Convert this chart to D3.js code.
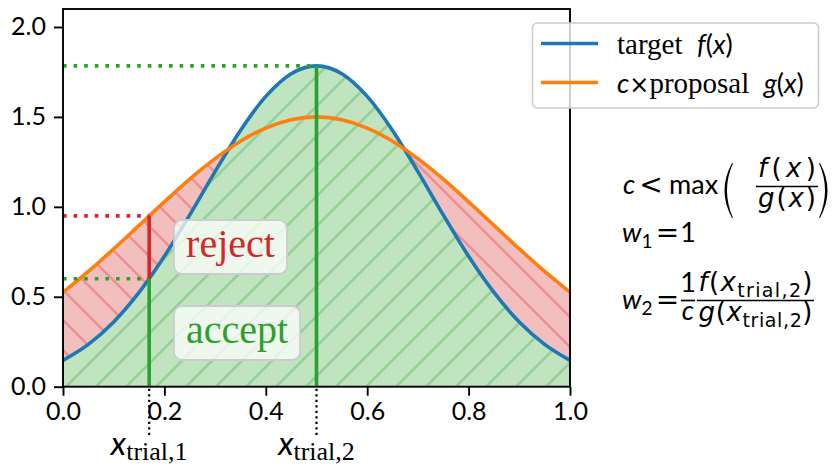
<!DOCTYPE html>
<html>
<head>
<meta charset="utf-8">
<script src="https://cdn.jsdelivr.net/npm/d3@7"></script>
<style>
  body { margin: 0; background: #fff; }
  svg { display: block; }
</style>
</head>
<body>
<script>
// Sample grid and curve values: target density f(x) and scaled proposal c·g(x)
const xGrid = [0.00, 0.05, 0.10, 0.15, 0.20, 0.25, 0.30, 0.35, 0.40, 0.45, 0.50,
               0.55, 0.60, 0.65, 0.70, 0.75, 0.80, 0.85, 0.90, 0.95, 1.00];
const targetF = [0.146, 0.235, 0.360, 0.524, 0.725, 0.955, 1.196, 1.425, 1.614, 1.740, 1.784,
                 1.740, 1.614, 1.425, 1.196, 0.955, 0.725, 0.524, 0.360, 0.235, 0.146];
const scaledProposal = [0.525, 0.641, 0.766, 0.897, 1.028, 1.154, 1.268, 1.365, 1.438, 1.484, 1.500,
                        1.484, 1.438, 1.365, 1.268, 1.154, 1.028, 0.897, 0.766, 0.641, 0.525];

// Two trial draws: position, f at that point, c·g at that point
const trialX = [0.17, 0.50];
const trialF = [0.60, 1.784];
const trialCG = [0.95, 1.50];
const trialNames = ["trial,1", "trial,2"];

const xTicks = [0.0, 0.2, 0.4, 0.6, 0.8, 1.0];
const yTicks = [0.0, 0.5, 1.0, 1.5, 2.0];
const legendLabels = ["target", "proposal"];

const W = 836, H = 467;
const SANS = "Lato, 'DejaVu Sans', sans-serif";
const SYM = "'DejaVu Sans', sans-serif";
const SERIF = "'Liberation Serif', 'DejaVu Serif', serif";
const C = { blue: "#1f77b4", orange: "#ff7f0e", green: "#2ca02c", red: "#d62728" };

const x = d3.scaleLinear().domain([0, 1]).range([63, 570]);
const y = d3.scaleLinear().domain([0, 2.1]).range([386.7, 9]);

const svg = d3.select("body").append("svg").attr("width", W).attr("height", H)
  .attr("viewBox", `0 0 ${W} ${H}`);
const defs = svg.append("defs");

function hatch(id, color, dir, shift) {
  const p = defs.append("pattern").attr("id", id)
    .attr("patternUnits", "userSpaceOnUse").attr("width", 30).attr("height", 30)
    .attr("patternTransform", `translate(${shift},0)`);
  const d = dir === "/"
    ? "M-5,5L5,-5M0,30L30,0M25,35L35,25"
    : "M-5,25L5,35M0,0L30,30M25,-5L35,5";
  p.append("path").attr("d", d).attr("stroke", color).attr("stroke-width", 2.5).attr("fill", "none");
}
hatch("hatchGreen", "#94cf94", "/", 2.7);
hatch("hatchRed", "#ea9191", "\\", 13);

defs.append("clipPath").attr("id", "plotClip").append("rect")
  .attr("x", x(0)).attr("y", y(2.1)).attr("width", x(1) - x(0)).attr("height", y(0) - y(2.1));

const rows = xGrid.map((v, i) => ({ x: v, f: targetF[i], g: scaledProposal[i] }));

const plot = svg.append("g").attr("clip-path", "url(#plotClip)");

// Rejection band: under c·g, later covered by the acceptance region under f
const areaG = d3.area().x(d => x(d.x)).y0(y(0)).y1(d => y(d.g)).curve(d3.curveMonotoneX);
const areaF = d3.area().x(d => x(d.x)).y0(y(0)).y1(d => y(d.f)).curve(d3.curveMonotoneX);
plot.append("path").attr("d", areaG(rows)).attr("fill", "#f3bebe");
plot.append("path").attr("d", areaG(rows)).attr("fill", "url(#hatchRed)");
plot.append("path").attr("d", areaF(rows)).attr("fill", "#c0e3c0");
plot.append("path").attr("d", areaF(rows)).attr("fill", "url(#hatchGreen)");

// Curves
const lineF = d3.line().x(d => x(d.x)).y(d => y(d.f)).curve(d3.curveMonotoneX);
const lineG = d3.line().x(d => x(d.x)).y(d => y(d.g)).curve(d3.curveMonotoneX);
plot.append("path").attr("d", lineF(rows)).attr("fill", "none").attr("stroke", C.blue).attr("stroke-width", 3.6);
plot.append("path").attr("d", lineG(rows)).attr("fill", "none").attr("stroke", C.orange).attr("stroke-width", 3.6);

// Dotted guides from the y axis to each trial
trialX.forEach((tx, i) => {
  plot.append("line").attr("x1", x(0)).attr("x2", x(tx)).attr("y1", y(trialF[i])).attr("y2", y(trialF[i]))
    .attr("stroke", C.green).attr("stroke-width", 3.6).attr("stroke-dasharray", "3.6,7");
  if (trialCG[i] > trialF[i]) {
    plot.append("line").attr("x1", x(0)).attr("x2", x(tx)).attr("y1", y(trialCG[i])).attr("y2", y(trialCG[i]))
      .attr("stroke", C.red).attr("stroke-width", 3.6).attr("stroke-dasharray", "3.6,7");
  }
});

// Vertical accept / reject segments
trialX.forEach((tx, i) => {
  plot.append("line").attr("x1", x(tx)).attr("x2", x(tx)).attr("y1", y(0)).attr("y2", y(trialF[i]))
    .attr("stroke", C.green).attr("stroke-width", 3.6);
  if (trialCG[i] > trialF[i]) {
    plot.append("line").attr("x1", x(tx)).attr("x2", x(tx)).attr("y1", y(trialF[i])).attr("y2", y(trialCG[i]))
      .attr("stroke", C.red).attr("stroke-width", 3.6);
  }
});

// Labelled boxes
function labelBox(cx, top, w, h, text, color) {
  svg.append("rect").attr("x", cx - w / 2).attr("y", top).attr("width", w).attr("height", h)
    .attr("rx", 8).attr("fill", "rgba(255,255,255,0.75)").attr("stroke", "#cccccc").attr("stroke-width", 1.8);
  svg.append("text").attr("x", cx).attr("y", top + h / 2 + 10).attr("text-anchor", "middle")
    .attr("font-family", SERIF).attr("font-size", 40).attr("fill", color).text(text);
}
labelBox(230.5, 220, 113, 54, "reject", C.red);
labelBox(237, 306, 126, 54, "accept", C.green);

// Axes
svg.append("rect").attr("x", x(0)).attr("y", y(2.1)).attr("width", x(1) - x(0)).attr("height", y(0) - y(2.1))
  .attr("fill", "none").attr("stroke", "#000").attr("stroke-width", 1.9);

const xAxis = svg.append("g").attr("transform", `translate(0,${y(0)})`)
  .call(d3.axisBottom(x).tickValues(xTicks).tickFormat(d3.format(".1f")).tickSize(9).tickPadding(7));
const yAxis = svg.append("g").attr("transform", `translate(${x(0)},0)`)
  .call(d3.axisLeft(y).tickValues(yTicks).tickFormat(d3.format(".1f")).tickSize(9).tickPadding(8));
[xAxis, yAxis].forEach(a => {
  a.select(".domain").remove();
  a.selectAll(".tick line").attr("stroke", "#000").attr("stroke-width", 1.9);
  a.selectAll(".tick text").attr("font-family", SANS).attr("font-size", 25).attr("fill", "#000");
});

// Trial markers below the axis
trialX.forEach((tx, i) => {
  svg.append("line").attr("x1", x(tx)).attr("x2", x(tx)).attr("y1", y(0) + 2).attr("y2", 437)
    .attr("stroke", "#000").attr("stroke-width", 2.2).attr("stroke-dasharray", "2.2,3.3");
  const t = svg.append("text").attr("x", x(tx)).attr("y", 455).attr("text-anchor", "middle").attr("fill", "#000");
  t.append("tspan").attr("font-family", SANS).attr("font-style", "italic").attr("font-size", 33).text("x");
  t.append("tspan").attr("font-family", SERIF).attr("font-size", 26).attr("dy", 5).text(trialNames[i]);
});

// Legend
const leg = svg.append("g");
leg.append("rect").attr("x", 532.5).attr("y", 23).attr("width", 286).attr("height", 85).attr("rx", 5)
  .attr("fill", "rgba(255,255,255,0.8)").attr("stroke", "#cccccc").attr("stroke-width", 1.5);
[[C.blue, 43.5], [C.orange, 82.5]].forEach(([col, ly]) => {
  leg.append("line").attr("x1", 541).attr("x2", 598).attr("y1", ly).attr("y2", ly)
    .attr("stroke", col).attr("stroke-width", 3.6);
});

function seg(t, str, style, extra) {
  const s = t.append("tspan").text(str);
  if (style === "i") s.attr("font-family", SANS).attr("font-style", "italic");
  else if (style === "r") s.attr("font-family", SANS);
  else if (style === "di") s.attr("font-family", SYM).attr("font-style", "italic");
  else if (style === "y") s.attr("font-family", SYM);
  else if (style === "s") s.attr("font-family", SERIF);
  if (extra) Object.entries(extra).forEach(([k, v]) => s.attr(k, v));
  return s;
}
const m = { "font-size": 27 };
const l1 = leg.append("text").attr("x", 617).attr("y", 54).attr("font-size", 29).attr("fill", "#000");
seg(l1, legendLabels[0], "s"); seg(l1, "\u2002", "s");
seg(l1, "f", "i", m); seg(l1, "(", "r", m); seg(l1, "x", "i", m); seg(l1, ")", "r", m);
const l2 = leg.append("text").attr("x", 617).attr("y", 93).attr("font-size", 29).attr("fill", "#000");
seg(l2, "c", "i", m); seg(l2, "\u00d7", "y", { "font-size": 24 });
seg(l2, legendLabels[1], "s"); seg(l2, "\u2002", "s");
seg(l2, "g", "i", m); seg(l2, "(", "r", m); seg(l2, "x", "i", m); seg(l2, ")", "r", m);

// Equations on the right
const eq = svg.append("g").attr("fill", "#000").attr("font-size", 27);
function mtext(px, py, parts, anchor, len) {
  const t = eq.append("text").attr("x", px).attr("y", py).attr("text-anchor", anchor || "start");
  parts.forEach(p => seg(t, p[0], p[1], p[2]));
  if (len) t.attr("textLength", len).attr("lengthAdjust", "spacing");
  return t;
}
function bar(x1, x2, by) {
  eq.append("line").attr("x1", x1).attr("x2", x2).attr("y1", by).attr("y2", by)
    .attr("stroke", "#000").attr("stroke-width", 1.7);
}
function bigParen(px, top, bottom, open) {
  const mid = (top + bottom) / 2, s = open ? 1 : -1;
  const d = `M${px},${top} Q${px - s * 15},${mid} ${px},${bottom} L${px + s * 1},${bottom} Q${px - s * 11},${mid} ${px + s * 1},${top} Z`;
  eq.append("path").attr("d", d).attr("fill", "#000");
}
const subUp = { "font-size": 19, dy: 6 };
const subDn = { dy: -6 };
const rel = { "font-size": 28 };

// Fraction bodies, typeset in a wider sans
function callParts(fn, sub) {
  const p = [[fn, "di"], ["(", "y"], ["x", "di"]];
  if (sub) p.push([sub, "y", subUp], [")", "y", subDn]);
  else p.push([")", "y"]);
  return p;
}

// c < max( f(x) / g(x) )
mtext(623, 194, [["c", "i"]]);
mtext(651, 194, [["<", "y", rel]], "middle");
mtext(669, 194, [["max", "r"]]);
bigParen(732, 163, 218, true);
mtext(787, 177, callParts("f"), "middle", 58).attr("font-size", 26);
bar(756, 818, 186.5);
mtext(787, 207, callParts("g"), "middle", 58).attr("font-size", 26);
bigParen(820, 163, 218, false);

// w1 = 1
mtext(622, 242, [["w", "i"], ["1", "r", subUp]]);
mtext(667.5, 242, [["=", "y", rel]], "middle");
mtext(688, 242, [["1", "r"]], "middle");

// w2 = (1/c) f(x_trial,2) / g(x_trial,2)
mtext(622, 309, [["w", "i"], ["2", "r", subUp]]);
mtext(667.5, 309, [["=", "y", rel]], "middle");
mtext(688, 292, [["1", "r"]], "middle");
bar(681, 695, 300.5);
mtext(688, 320, [["c", "i"]], "middle");
mtext(755.5, 291, callParts("f", "trial,2"), "middle", 114).attr("font-size", 26);
bar(697, 814, 300.5);
mtext(755.5, 321, callParts("g", "trial,2"), "middle", 114).attr("font-size", 26);
</script>
</body>
</html>
